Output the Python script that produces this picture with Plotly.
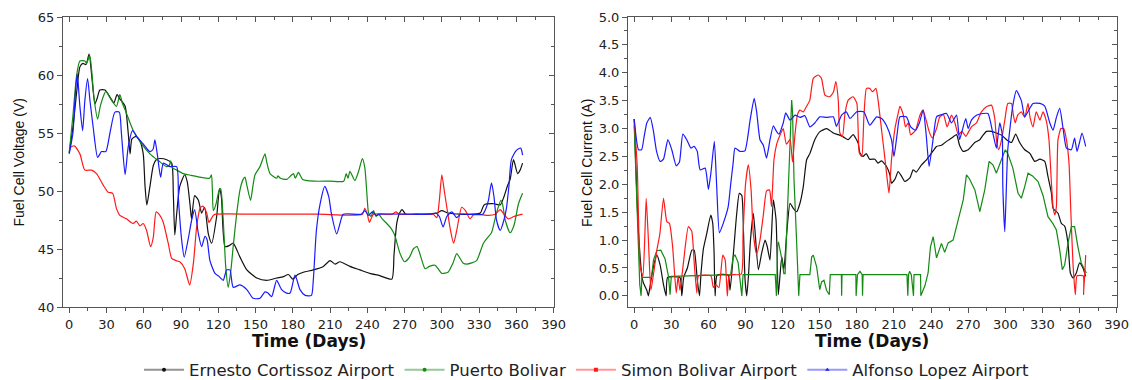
import plotly.graph_objects as go

# ---------------- Left panel: Fuel Cell Voltage (V) ----------------
eca_v_day = [0, 3, 6, 8.6, 11, 13.5, 16, 18.5, 20.7, 22.5, 24.7, 28.8, 32.8, 36, 38.5, 41, 45, 47.5, 49, 50.5,
             54, 57, 59.6, 61, 62.5, 65, 67.7, 70, 73, 78.5, 82.5, 83.8, 85, 86.5, 89, 93, 95, 97.2, 98.5, 101,
             104, 106.6, 109, 112, 114.7, 118.7, 121, 122.5, 125.5, 129, 132, 137.5, 143, 151, 159, 167, 172,
             176.5, 180, 184, 188.5, 196.5, 204.6, 210, 214, 218, 226, 234, 242, 250, 259.7, 261.5, 263.7, 266,
             268, 271, 280, 290, 296, 300, 305, 315, 325, 331, 334, 342, 347, 350, 353, 355, 357.7, 361, 363, 365]
eca_v = [53.3, 55.5, 58.5, 60.7, 61.0, 60.9, 61.8, 59.5, 57.5, 58.0, 58.7, 58.7, 58.1, 57.6, 58.3, 57.9, 57.3, 55.0,
         53.2, 54.5, 54.7, 54.3, 53.2, 50.5, 48.8, 50.4, 52.2, 52.7, 52.8, 52.7, 52.4, 49.8, 46.2, 48.0, 50.4, 51.4,
         50.8, 48.9, 47.6, 49.6, 49.2, 48.1, 48.6, 46.3, 45.5, 47.8, 50.2, 49.5, 45.2, 45.3, 45.5, 44.3, 43.2, 42.5,
         42.3, 42.5, 42.6, 42.8, 42.4, 42.8, 43.0, 43.2, 43.5, 44.0, 43.7, 43.9, 43.5, 43.2, 42.9, 42.7, 42.4, 44.5,
         47.2, 48.1, 48.4, 48.0, 48.0, 48.0, 48.1, 48.3, 48.1, 48.0, 48.0, 48.1, 48.8, 48.9, 48.8, 49.5, 50.5, 51.0,
         52.7, 51.5, 51.8, 52.4]

pb_v_day = [0, 3, 6, 8.6, 12.6, 14, 16.5, 18, 20, 22.9, 25, 28, 29.6, 33, 38, 40.8, 43, 45, 51.6, 58, 65, 72,
            78.4, 80.5, 81.7, 83, 86.5, 91.8, 98, 105, 113, 114.5, 115.3, 116, 118, 120.8, 122, 124, 126, 128, 130,
            132, 135, 137.5, 140, 141.5, 143, 146, 148, 149.6, 153.6, 157.6, 159, 161.7, 167, 168, 170, 175, 180.5,
            182, 184.5, 188, 196.5, 210, 221, 223, 224.5, 226, 230, 233, 236, 238, 239.5, 240.5, 241, 243, 245,
            247, 249, 252, 255.6, 259, 262, 266.4, 270, 274, 277, 280, 284, 286.5, 290, 294.5, 297, 300, 305, 309,
            312, 317, 320, 324, 328, 333.5, 337, 340, 344, 347.5, 349, 351, 355, 358, 361.7, 365]
pb_v = [53.3, 56.5, 60.0, 61.2, 61.2, 61.0, 61.7, 60.5, 58.0, 56.2, 57.3, 58.3, 58.6, 58.0, 57.3, 58.3, 57.5, 57.0,
        55.2, 54.1, 53.2, 52.6, 52.1, 52.2, 52.6, 52.0, 51.8, 51.5, 51.35, 51.2, 51.1, 51.4, 50.0, 48.3, 48.8, 50.1,
        50.2, 47.5, 43.5, 41.7, 43.0, 45.2, 48.2, 50.1, 51.0, 51.2, 50.5, 49.2, 50.5, 51.4, 52.1, 53.2, 52.5, 51.5,
        51.1, 51.3, 51.1, 51.0, 51.5, 51.1, 51.6, 51.0, 50.85, 50.85, 50.85, 51.5, 51.1, 51.7, 50.9, 51.7, 52.8,
        52.0, 50.0, 48.5, 48.1, 47.8, 48.3, 47.8, 48.0, 47.6, 47.2, 46.8, 46.2, 44.6, 43.9, 44.3, 45.0, 45.2, 44.0,
        43.3, 43.5, 43.6, 43.3, 42.9, 43.0, 43.8, 44.6, 43.8, 43.7, 43.8, 44.0, 45.5, 46.0, 46.4, 48.1, 49.2, 48.8,
        47.5, 46.4, 47.0, 48.9, 49.8]

sba_v_day = [0, 4, 8.6, 12.6, 18, 22, 27.4, 31.4, 35, 38, 40.8, 46, 51.5, 54, 57, 59.6, 62.3, 65.5, 67.7, 70, 73,
             75.7, 79.7, 82.5, 86, 89, 93, 97, 100, 102.6, 105.3, 107.5, 110.7, 112.5, 116, 118, 150, 200, 236, 238,
             240, 241.7, 245, 260, 263, 266, 293, 296, 298, 300, 302, 304, 307, 309.5, 312, 316, 319, 322.7, 326,
             337.5, 343, 347, 350, 353.6, 358, 365]
sba_v = [53.7, 53.9, 53.2, 51.8, 51.8, 51.5, 50.5, 49.9, 49.8, 48.5, 47.9, 47.6, 47.2, 47.4, 47.0, 47.2, 46.6, 45.2,
         46.0, 48.2, 47.9, 47.3, 45.5, 44.2, 44.0, 43.9, 43.3, 41.9, 43.8, 46.9, 48.5, 48.7, 48.1, 47.3, 47.9, 48.0,
         48.0, 48.0, 48.0, 48.5, 48.0, 47.3, 48.0, 48.0, 48.2, 48.0, 48.0, 47.7, 49.2, 51.4, 50.0, 48.6, 46.6, 45.5,
         46.6, 48.6, 48.3, 47.6, 48.0, 47.9, 48.0, 48.4, 48.0, 47.6, 47.8, 48.0]

ala_v_day = [0, 3, 5, 6.5, 8.6, 10.8, 12.6, 14.8, 16.7, 19.3, 22.9, 26, 29.5, 32.8, 36.8, 40.3, 42, 45, 47.5, 51,
             55, 60, 65, 67.5, 69, 71, 73.6, 75.8, 81, 86.5, 88, 90.5, 92.6, 95.7, 98.6, 101, 104, 106.6, 109.3, 111,
             113.3, 117.4, 121, 124, 126.7, 129.4, 132, 137.5, 143, 148, 153.6, 157.6, 160, 163, 167, 171, 175,
             177.8, 181.8, 185.8, 190, 195, 196.5, 199, 202, 205.8, 209, 211, 215.4, 218, 220.6, 235, 238, 241, 244,
             247, 250, 290, 295, 298, 301, 304, 308, 312, 315, 333, 335.5, 337.5, 340, 342, 344, 347, 350, 352, 354,
             356, 360, 363.5, 365]
ala_v = [53.2, 55.0, 58.5, 60.1, 57.3, 55.2, 57.8, 59.7, 57.8, 55.5, 52.9, 53.4, 53.4, 55.0, 56.8, 56.8, 55.0, 51.4,
         53.8, 55.2, 54.6, 54.0, 53.4, 53.6, 54.4, 53.1, 51.2, 52.4, 52.1, 52.1, 49.2, 45.8, 44.3, 45.8, 47.5, 48.4,
         46.3, 45.2, 46.1, 45.8, 44.0, 42.9, 42.6, 42.3, 43.2, 43.2, 41.7, 41.9, 41.5, 40.75, 40.75, 41.3, 41.2, 40.9,
         42.3, 41.5, 41.2, 41.2, 42.75, 41.5, 41.0, 41.0, 42.3, 46.6, 48.9, 50.4, 49.5, 48.1, 46.3, 47.2, 48.0, 48.0,
         48.3, 47.9, 48.2, 47.9, 48.0, 48.0, 48.1, 47.8, 46.9, 47.8, 48.2, 47.7, 48.0, 48.0, 48.5, 49.2, 50.7, 49.5,
         47.5, 46.6, 47.5, 48.5, 50.4, 52.7, 53.5, 53.7, 53.1]

# ---------------- Right panel: Fuel Cell Current (A) ----------------
eca_i_day = [0, 2.2, 3.5, 4.8, 6.2, 7.5, 10.2, 11.5, 13, 15.6, 18.3, 21, 23.7, 25.8, 27, 37, 38.5, 40, 43, 46.6,
             48.5, 51, 52.8, 54, 56, 58.7, 61.9, 63.5, 64.6, 65.4, 67, 76, 77.5, 80.2, 82.9, 85, 87, 88.3, 89.6, 91,
             92.5, 94, 96.3, 97.6, 100.4, 103, 105.8, 107.6, 109.8, 112.5, 114.7, 116.5, 119.3, 121, 123.3, 126,
             128.6, 131.4, 134, 136.7, 139.4, 142, 146, 150, 155.6, 161, 165, 169, 173, 177, 181, 182.5, 185, 187.6,
             190.3, 194.6, 197, 200, 204, 206.7, 208, 211, 213.4, 216, 218.8, 223, 225.5, 228, 232.3, 236.3, 240.4,
             244.4, 248.4, 252.5, 256.6, 260.6, 263, 265.9, 270, 272.6, 275.3, 279.4, 282, 284.8, 288.8, 292.8, 297,
             301, 305, 308.4, 311.6, 315.7, 320, 323.8, 328, 331.9, 334.5, 337.3, 338.6, 342.6, 345.3, 348, 350.7,
             352.6, 354.7, 357.4, 360, 362.8, 365]
eca_i = [3.17, 1.78, 1.13, 0.7, 0.35, 0.23, 0.1, 0.0, 0.2, 0.53, 0.73, 0.55, 0.2, 0.0, 0.33, 0.33, 0.0, 0.33, 0.5,
         0.82, 0.82, 0.29, 0.0, 0.4, 0.85, 1.12, 1.45, 1.3, 0.76, 0.0, 0.37, 0.37, 0.1, 0.76, 1.48, 1.84, 1.8, 1.18,
         0.3, 0.0, 0.4, 1.0, 1.48, 1.18, 0.47, 0.76, 1.0, 0.88, 0.64, 1.72, 1.36, 0.02, 0.7, 0.47, 1.12, 1.66, 1.57,
         1.51, 1.66, 1.96, 2.44, 2.55, 2.8, 2.94, 3.0, 2.92, 2.89, 2.85, 2.8, 2.89, 2.74, 2.56, 2.5, 2.55, 2.45,
         2.45, 2.38, 2.42, 2.32, 2.17, 2.02, 2.1, 2.23, 2.15, 2.05, 2.12, 2.26, 2.22, 2.35, 2.44, 2.56, 2.68, 2.7,
         2.77, 2.83, 2.89, 2.7, 2.59, 2.62, 2.68, 2.75, 2.8, 2.88, 2.95, 2.95, 2.92, 2.88, 2.8, 2.75, 2.9, 2.75,
         2.62, 2.55, 2.41, 2.45, 2.41, 2.14, 1.84, 1.57, 1.48, 1.3, 1.25, 0.94, 0.41, 0.32, 0.41, 0.59, 0.5, 0.35]

pb_i_day = [0, 1.5, 3, 4.5, 5.6, 6.2, 14, 15.6, 18.3, 21.5, 25, 27.7, 29, 30, 78, 80, 81.5, 84, 87, 88, 114, 115,
            116, 116.6, 119, 121, 122, 123.3, 126, 127.3, 128, 129.2, 131.3, 133, 134, 142, 143.5, 144.8, 147.5,
            150, 151.5, 153.4, 155.5, 157.7, 158.5, 167.5, 167.7, 168, 179.2, 179.4, 180.5, 182.5, 184.3, 184.6,
            185, 220.5, 221.2, 221.8, 222.6, 224, 225.8, 226.2, 231.5, 231.7, 235, 237.6, 239.5, 241.7, 244.4, 247,
            248.4, 251, 253.8, 257.8, 261.9, 266, 268.6, 271, 275.4, 279.4, 283.4, 286.9, 290, 292.8, 297, 300, 302,
            306, 310.3, 313, 315.7, 318.4, 322, 326.5, 330.5, 334.5, 338.4, 341.3, 344, 346.1, 348, 350.7, 353.4,
            356, 358.7, 361.4, 365.5]
pb_i = [3.06, 2.0, 0.9, 0.2, 0.0, 0.33, 0.33, 0.64, 0.81, 0.82, 0.66, 0.35, 0.02, 0.35, 0.38, 0.7, 0.73, 0.6, 0.0,
        0.38, 0.38, 0.0, 0.9, 0.97, 0.7, 0.4, 0.4, 1.24, 2.72, 3.51, 3.3, 2.08, 0.98, 0.0, 0.38, 0.38, 0.7, 0.73,
        0.52, 0.11, 0.25, 0.28, 0.1, 0.02, 0.38, 0.38, 0.0, 0.38, 0.38, 0.0, 0.38, 0.44, 0.38, 0.0, 0.38, 0.38, 0.0,
        0.38, 0.44, 0.38, 0.0, 0.38, 0.38, 0.0, 0.18, 0.41, 0.88, 1.06, 0.68, 0.85, 0.94, 0.78, 0.95, 1.0, 1.36,
        1.72, 2.17, 2.1, 1.9, 1.51, 1.9, 2.41, 2.35, 2.2, 2.45, 2.62, 2.55, 2.3, 1.84, 1.75, 1.96, 2.2, 2.15, 2.05,
        1.8, 1.42, 1.3, 1.18, 0.82, 0.47, 0.55, 0.95, 1.24, 1.24, 0.88, 0.59, 0.41]

sba_i_day = [0, 2.5, 3.5, 4.8, 7, 8.5, 9.7, 11.5, 13.5, 16, 18.3, 20.7, 23.7, 26.4, 28.5, 31, 34, 35.5, 37, 39.8,
             43.8, 46.5, 48.5, 50.6, 52, 62, 64, 66, 68.5, 71.6, 73.5, 75.3, 77, 86.5, 88, 90, 92.3, 94.5, 96.3, 99,
             101.7, 104.4, 107, 109.4, 111, 113, 115.2, 118, 120.5, 123, 126, 128, 130, 132, 134, 136.7, 139.4,
             142, 144.8, 148.8, 151.4, 154.2, 158, 161, 163, 165, 166.3, 168.4, 170.4, 173, 177, 180, 182, 184,
             185.7, 187.8, 190.4, 192.6, 195.4, 197.2, 200, 202.5, 204.6, 206, 208, 210.8, 213.4, 214.8, 217.5,
             219.3, 221.6, 223.4, 227.5, 231, 233.5, 236, 238.5, 241, 244.4, 247, 250, 253, 256.5, 259.3, 262, 265,
             268, 272.6, 276.7, 280.7, 284.8, 288.8, 291.5, 293, 294.7, 297, 299.6, 302, 305, 306.5, 308, 310, 313,
             315.7, 318.4, 320, 322.4, 325, 328, 330.5, 333, 335.3, 337.3, 338.6, 340, 341.3, 342.6, 345, 347.2,
             349.4, 351.5, 353, 354.7, 356.6, 358, 363, 363.3, 365]
sba_i = [3.17, 2.3, 1.4, 0.53, 0.35, 1.0, 1.75, 1.0, 0.1, 0.45, 0.82, 1.1, 1.75, 1.33, 1.3, 0.9, 0.05, 0.35, 0.1,
         0.59, 1.24, 1.16, 0.6, 0.05, 0.36, 0.36, 0.15, 0.2, 0.15, 0.73, 0.65, 0.0, 0.37, 0.39, 1.1, 2.0, 2.35, 1.9,
         1.12, 0.75, 1.0, 1.45, 1.88, 1.9, 1.6, 2.44, 2.72, 2.89, 3.0, 2.72, 2.8, 2.4, 2.9, 3.25, 3.33, 3.3, 3.4,
         3.51, 3.9, 3.96, 3.9, 3.6, 3.57, 3.65, 3.84, 3.5, 2.92, 2.86, 3.27, 3.51, 3.57, 3.45, 2.56, 2.5, 3.21, 3.72,
         3.72, 3.66, 3.72, 3.5, 2.97, 2.5, 2.08, 1.84, 2.44, 3.0, 3.27, 3.4, 3.25, 3.03, 3.1, 2.89, 2.97, 3.24, 3.33,
         3.15, 2.94, 2.83, 3.0, 3.21, 3.25, 3.03, 3.24, 3.1, 2.89, 2.95, 2.86, 3.03, 3.1, 3.3, 3.39, 3.42, 3.18,
         2.77, 2.62, 2.8, 3.15, 3.45, 3.45, 3.24, 3.1, 3.24, 3.3, 3.2, 3.45, 3.2, 3.03, 3.3, 3.15, 3.3, 3.15, 2.8,
         2.02, 1.6, 1.45, 1.6, 2.8, 3.0, 3.0, 2.8, 2.38, 1.5, 0.59, 0.02, 0.36, 0.36, 0.02, 0.73]

ala_i_day = [0, 3.5, 6, 8, 10.2, 13, 15.6, 18, 21, 23.7, 27.2, 30.4, 34, 36.6, 39.3, 42.5, 45.8, 48.5, 51, 53.3,
             57.4, 60, 62, 64.8, 66.7, 68.9, 72, 76, 78, 80, 81.5, 85.5, 89.5, 93.7, 97, 99, 101.7, 104.4, 107,
             109.8, 112.5, 115, 117, 120.5, 122.5, 126, 130, 134, 138, 142, 146, 150, 155.5, 161, 163.5, 167.7,
             171.5, 174.4, 180, 185.6, 190.5, 196, 200, 204, 208, 210, 212.6, 214.8, 220, 223.5, 227.5, 230.5,
             233.6, 236, 238.4, 241.6, 244.4, 248.5, 252.5, 256.5, 260.6, 263, 265, 268, 270, 272.6, 276.7, 282,
             286, 290, 292.8, 295.5, 297.5, 298, 299.6, 302, 306, 309, 313, 315.7, 319.5, 322.4, 328, 331.9, 336,
             338.6, 341.3, 344, 346.7, 349.4, 353.4, 356, 358, 360, 362, 365]
ala_i = [3.17, 2.62, 2.62, 2.85, 3.1, 3.2, 2.95, 2.6, 2.41, 2.45, 2.8, 2.62, 2.33, 2.4, 2.9, 2.8, 2.65, 2.68, 2.59,
         2.26, 2.29, 1.91, 2.2, 2.77, 1.96, 1.13, 1.3, 1.6, 2.0, 2.38, 2.65, 2.59, 2.6, 3.15, 3.54, 3.3, 2.8, 2.7,
         2.47, 2.8, 3.05, 2.95, 2.9, 3.1, 3.28, 3.15, 3.24, 3.2, 3.23, 3.03, 3.1, 3.21, 3.2, 3.21, 3.04, 3.24, 3.3,
         3.18, 3.3, 3.3, 3.06, 3.21, 3.18, 3.05, 2.8, 2.5, 2.91, 3.21, 3.21, 3.03, 2.97, 3.1, 3.33, 2.9, 2.32, 2.8,
         3.21, 3.25, 3.27, 3.1, 3.24, 2.8, 2.95, 3.18, 3.0, 3.15, 3.24, 3.27, 3.27, 2.91, 2.65, 3.1, 2.9, 1.96, 1.15,
         2.62, 3.4, 3.68, 3.5, 3.21, 3.35, 3.45, 3.45, 3.4, 3.1, 2.97, 3.2, 3.36, 3.0, 2.65, 2.62, 2.83, 2.59, 2.75,
         2.92, 2.68]

names = ["Ernesto Cortissoz Airport", "Puerto Bolivar", "Simon Bolivar Airport", "Alfonso Lopez Airport"]
colors = ["#111111", "#138a13", "#ff1a1a", "#1a1aff"]
legend_line_colors = ["rgba(60,60,60,0.55)", "rgba(19,138,19,0.45)", "rgba(255,26,26,0.45)", "rgba(26,26,255,0.45)"]
symbols = ["circle", "circle", "square", "triangle-up"]

left_series = [(eca_v_day, eca_v), (pb_v_day, pb_v), (sba_v_day, sba_v), (ala_v_day, ala_v)]
right_series = [(eca_i_day, eca_i), (pb_i_day, pb_i), (sba_i_day, sba_i), (ala_i_day, ala_i)]

fig = go.Figure()
for k, (xd, yd) in enumerate(left_series):
    fig.add_trace(go.Scatter(x=xd, y=yd, mode="lines", xaxis="x", yaxis="y", showlegend=False,
                             line=dict(color=colors[k], width=1.2, shape="spline", smoothing=0.6)))
for k, (xd, yd) in enumerate(right_series):
    shape = "linear" if k == 1 else "spline"
    fig.add_trace(go.Scatter(x=xd, y=yd, mode="lines", xaxis="x2", yaxis="y2", showlegend=False,
                             line=dict(color=colors[k], width=1.2, shape=shape, smoothing=0.5)))
for k in range(4):
    fig.add_trace(go.Scatter(x=[None], y=[None], mode="lines+markers", name=names[k],
                             line=dict(color=legend_line_colors[k], width=2),
                             marker=dict(symbol=symbols[k], size=4, color=colors[k])))
# dummy traces for mirrored (top/right) axes
fig.add_trace(go.Scatter(x=[None], y=[None], xaxis="x3", yaxis="y3", showlegend=False, hoverinfo="skip"))
fig.add_trace(go.Scatter(x=[None], y=[None], xaxis="x4", yaxis="y4", showlegend=False, hoverinfo="skip"))

W, H = 1132, 380
L1, R1 = 63 / W, 554 / W
L2, R2 = 628 / W, 1117 / W
YB, YT = 1 - 307 / H, 1 - 17 / H
axcol = "#555555"
tickfont = dict(family="DejaVu Sans", size=13, color="#222222")

def xax(domain, anchor, **kw):
    d = dict(domain=domain, anchor=anchor, range=[-5, 390.3], tickmode="linear", tick0=0, dtick=30,
             ticks="outside", ticklen=5, tickcolor=axcol, showline=True, linecolor=axcol, linewidth=1,
             showgrid=False, zeroline=False, tickfont=tickfont,
             minor=dict(dtick=15, tick0=0, ticks="outside", ticklen=3, tickcolor=axcol, showgrid=False))
    d.update(kw)
    return d

def yax(domain, anchor, rng, dtick, mdtick, fmt=None, **kw):
    d = dict(domain=domain, anchor=anchor, range=rng, tickmode="linear", tick0=0, dtick=dtick,
             ticks="outside", ticklen=5, tickcolor=axcol, showline=True, linecolor=axcol, linewidth=1,
             showgrid=False, zeroline=False, tickfont=tickfont,
             minor=dict(dtick=mdtick, tick0=0, ticks="outside", ticklen=3, tickcolor=axcol, showgrid=False))
    if fmt:
        d["tickformat"] = fmt
    d.update(kw)
    return d

inside_minor_x = dict(dtick=15, tick0=0, ticks="inside", ticklen=3, tickcolor=axcol, showgrid=False)

fig.update_layout(
    width=W, height=H, autosize=False,
    margin=dict(l=0, r=0, t=0, b=0, autoexpand=False),
    paper_bgcolor="white", plot_bgcolor="white",
    xaxis=xax([L1, R1], "y"),
    yaxis=yax([YB, YT], "x", [40, 65], 5, 2.5),
    xaxis2=xax([L2, R2], "y2"),
    yaxis2=yax([YB, YT], "x2", [-0.2, 5.0], 0.5, 0.25, ".1f"),
    xaxis3=xax([L1, R1], "y", overlaying="x", side="top", ticks="inside", showticklabels=False,
               minor=inside_minor_x),
    yaxis3=yax([YB, YT], "x", [40, 65], 5, 2.5, overlaying="y", side="right", ticks="inside",
               showticklabels=False,
               minor=dict(dtick=2.5, tick0=0, ticks="inside", ticklen=3, tickcolor=axcol, showgrid=False)),
    xaxis4=xax([L2, R2], "y2", overlaying="x2", side="top", ticks="inside", showticklabels=False,
               minor=inside_minor_x),
    yaxis4=yax([YB, YT], "x2", [-0.2, 5.0], 0.5, 0.25, overlaying="y2", side="right", ticks="inside",
               showticklabels=False,
               minor=dict(dtick=0.25, tick0=0, ticks="inside", ticklen=3, tickcolor=axcol, showgrid=False)),
    legend=dict(orientation="h", x=587 / W, xanchor="center", y=1 - 370 / H, yanchor="middle",
                font=dict(family="DejaVu Sans", size=16.5, color="#222222"), bgcolor="rgba(0,0,0,0)",
                itemwidth=40, tracegroupgap=0),
    showlegend=True,
)

title_font = dict(family="DejaVu Sans", size=17, color="#111111", weight="bold")
ytitle_font = dict(family="Liberation Sans, Arial", size=14, color="#111111")
fig.add_annotation(text="Time (Days)", x=308.5 / W, y=1 - 341 / H, xref="paper", yref="paper",
                   showarrow=False, font=title_font, xanchor="center", yanchor="middle")
fig.add_annotation(text="Time (Days)", x=872 / W, y=1 - 341 / H, xref="paper", yref="paper",
                   showarrow=False, font=title_font, xanchor="center", yanchor="middle")
fig.add_annotation(text="Fuel Cell Voltage (V)", x=18.5 / W, y=1 - 163 / H, xref="paper", yref="paper",
                   showarrow=False, font=ytitle_font, textangle=-90, xanchor="center", yanchor="middle")
fig.add_annotation(text="Fuel Cell Current (A)", x=587 / W, y=1 - 163 / H, xref="paper", yref="paper",
                   showarrow=False, font=ytitle_font, textangle=-90, xanchor="center", yanchor="middle")

fig.write_html("out.html")
